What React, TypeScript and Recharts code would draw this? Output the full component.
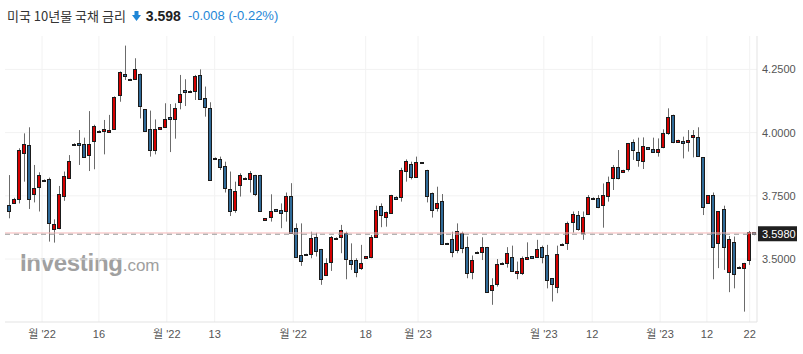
import React from "react";
import {
  ComposedChart,
  Bar,
  XAxis,
  YAxis,
  CartesianGrid,
  ReferenceLine,
} from "recharts";

// daily OHLC (oldest first)
const opens = [
  3.714, 3.72, 3.736, 3.918, 3.95, 3.756, 3.786, 3.813, 3.815, 3.618,
  3.624, 3.749, 3.822, 3.95, 3.96, 3.954, 3.91, 3.967, 4.008, 4.006,
  4.002, 4.016, 4.149, 4.232, 4.207, 4.213, 4.232, 4.092, 4.013, 3.931,
  4.013, 4.021, 4.06, 4.052, 4.122, 4.168, 4.16, 4.166, 4.228, 4.135,
  4.096, 3.901, 3.896, 3.868, 3.777, 3.694, 3.792, 3.822, 3.817, 3.832,
  3.832, 3.655, 3.665, 3.697, 3.694, 3.691, 3.749, 3.622, 3.516, 3.52,
  3.519, 3.586, 3.539, 3.435, 3.49, 3.578, 3.586, 3.604, 3.496, 3.496,
  3.464, 3.504, 3.51, 3.589, 3.71, 3.668, 3.684, 3.747, 3.747, 3.85,
  3.876, 3.826, 3.882, 3.852, 3.76, 3.701, 3.728, 3.563, 3.578, 3.536,
  3.604, 3.549, 3.448, 3.523, 3.527, 3.547, 3.378, 3.4, 3.479, 3.486,
  3.51, 3.444, 3.444, 3.5, 3.511, 3.51, 3.549, 3.515, 3.424, 3.391,
  3.554, 3.565, 3.645, 3.674, 3.602, 3.678, 3.743, 3.743, 3.714, 3.749,
  3.822, 3.865, 3.846, 3.855, 3.962, 3.925, 3.889, 3.942, 3.935, 3.925,
  3.942, 4.0, 4.07, 3.964, 3.967, 3.964, 3.984, 3.981, 3.902, 3.72,
  3.753, 3.565, 3.697, 3.45, 3.569, 3.464, 3.466, 3.496, 3.606,
];

const highs = [
  3.832, 3.742, 3.938, 3.997, 4.021, 3.872, 3.843, 3.815, 3.822, 3.657,
  3.789, 3.846, 3.911, 3.958, 4.01, 3.98, 4.085, 4.031, 4.009, 4.05,
  4.07, 4.143, 4.242, 4.344, 4.213, 4.294, 4.234, 4.093, 4.087, 4.052,
  4.022, 4.116, 4.113, 4.116, 4.228, 4.211, 4.167, 4.228, 4.25, 4.182,
  4.12, 3.902, 3.905, 3.885, 3.846, 3.806, 3.839, 3.823, 3.848, 3.833,
  3.833, 3.662, 3.756, 3.698, 3.72, 3.763, 3.8, 3.641, 3.641, 3.521,
  3.608, 3.604, 3.54, 3.503, 3.591, 3.586, 3.635, 3.608, 3.562, 3.503,
  3.556, 3.512, 3.595, 3.711, 3.72, 3.688, 3.754, 3.748, 3.861, 3.894,
  3.885, 3.905, 3.883, 3.853, 3.763, 3.786, 3.757, 3.564, 3.608, 3.641,
  3.608, 3.589, 3.514, 3.53, 3.586, 3.548, 3.424, 3.5, 3.487, 3.547,
  3.553, 3.49, 3.51, 3.566, 3.512, 3.576, 3.553, 3.556, 3.425, 3.553,
  3.562, 3.648, 3.688, 3.69, 3.688, 3.753, 3.744, 3.753, 3.799, 3.826,
  3.872, 3.931, 3.853, 3.959, 3.973, 3.98, 3.981, 3.943, 3.98, 3.977,
  4.013, 4.096, 4.071, 3.972, 3.984, 4.01, 4.01, 4.021, 3.903, 3.753,
  3.763, 3.689, 3.711, 3.591, 3.589, 3.471, 3.485, 3.611, 3.607,
];

const lows = [
  3.661, 3.718, 3.72, 3.806, 3.698, 3.724, 3.688, 3.806, 3.569, 3.565,
  3.618, 3.73, 3.819, 3.948, 3.872, 3.901, 3.848, 3.855, 4.001, 3.914,
  4.001, 4.013, 4.122, 4.208, 4.206, 4.211, 4.056, 4.004, 3.905, 3.914,
  4.012, 4.02, 3.923, 3.976, 4.092, 4.105, 4.159, 4.129, 4.129, 4.063,
  3.812, 3.893, 3.852, 3.763, 3.67, 3.683, 3.747, 3.814, 3.763, 3.749,
  3.69, 3.654, 3.648, 3.688, 3.622, 3.648, 3.603, 3.507, 3.473, 3.514,
  3.503, 3.51, 3.398, 3.433, 3.453, 3.577, 3.523, 3.42, 3.457, 3.428,
  3.457, 3.503, 3.503, 3.585, 3.626, 3.628, 3.681, 3.738, 3.727, 3.806,
  3.815, 3.825, 3.879, 3.724, 3.664, 3.688, 3.556, 3.56, 3.507, 3.523,
  3.523, 3.424, 3.42, 3.522, 3.496, 3.369, 3.319, 3.391, 3.478, 3.466,
  3.45, 3.42, 3.437, 3.496, 3.503, 3.507, 3.483, 3.384, 3.332, 3.365,
  3.553, 3.536, 3.604, 3.612, 3.576, 3.674, 3.735, 3.701, 3.624, 3.727,
  3.773, 3.815, 3.845, 3.846, 3.892, 3.865, 3.856, 3.934, 3.921, 3.905,
  3.938, 3.991, 3.958, 3.963, 3.898, 3.925, 3.902, 3.905, 3.674, 3.719,
  3.42, 3.464, 3.457, 3.369, 3.384, 3.463, 3.292, 3.477, 3.594,
];

const closes = [
  3.688, 3.739, 3.931, 3.954, 3.739, 3.782, 3.832, 3.807, 3.644, 3.637,
  3.756, 3.828, 3.889, 3.956, 3.95, 3.905, 3.954, 4.025, 4.002, 4.014,
  4.01, 4.142, 4.241, 4.224, 4.212, 4.253, 4.105, 4.008, 3.931, 4.013,
  4.021, 4.052, 4.052, 4.099, 4.154, 4.159, 4.166, 4.225, 4.131, 4.103,
  3.813, 3.894, 3.865, 3.78, 3.691, 3.771, 3.832, 3.815, 3.842, 3.757,
  3.691, 3.661, 3.691, 3.689, 3.681, 3.749, 3.604, 3.51, 3.493, 3.515,
  3.582, 3.533, 3.42, 3.486, 3.586, 3.585, 3.615, 3.499, 3.481, 3.45,
  3.486, 3.511, 3.589, 3.694, 3.674, 3.685, 3.753, 3.739, 3.852, 3.889,
  3.823, 3.882, 3.88, 3.751, 3.694, 3.72, 3.558, 3.561, 3.527, 3.612,
  3.543, 3.444, 3.496, 3.529, 3.547, 3.371, 3.398, 3.479, 3.486, 3.523,
  3.454, 3.453, 3.503, 3.508, 3.504, 3.539, 3.51, 3.417, 3.4, 3.519,
  3.561, 3.644, 3.678, 3.618, 3.665, 3.747, 3.736, 3.707, 3.753, 3.806,
  3.865, 3.822, 3.852, 3.958, 3.931, 3.892, 3.948, 3.935, 3.925, 3.934,
  3.997, 4.063, 3.964, 3.971, 3.96, 3.971, 3.992, 3.909, 3.707, 3.752,
  3.547, 3.688, 3.549, 3.579, 3.44, 3.47, 3.483, 3.607, 3.598,
];

// x-axis labels, placed by candle index
const xTickPos = [7.7, 19, 32.5, 42, 57.6, 72, 82.4, 107.4, 117, 130.5, 139.8, 148.3];
const xTickLabels = ["월 '22", "16", "월 '22", "13", "월 '22", "18", "월 '23", "월 '23", "12", "월 '23", "12", "22"];
const yTicks = [3.5, 3.75, 4.0, 4.25];

const lastPrice = 3.598;
const change = "-0.008";
const changePct = "(-0.22%)";

const UP = "#d40000";
const DOWN = "#2f6a98";
const FONT = "'Liberation Sans', Arial, 'Noto Sans CJK KR', sans-serif";

const data = opens.map((o, i) => ({
  i: i + 1,
  o,
  h: highs[i],
  l: lows[i],
  c: closes[i],
}));

// eslint-disable-next-line @typescript-eslint/no-explicit-any
function Candle(props: any) {
  const { x, y, width, height, payload } = props;
  if (!payload) return null;
  const { o, h, l, c } = payload;
  const top = Math.min(y, y + height);
  const bot = Math.max(y, y + height);
  const span = h - l || 0.0001;
  const px = (v: number) => top + ((h - v) / span) * (bot - top);
  const cx = Math.round(x + width / 2);
  const up = c >= o;
  const bTop = Math.round(px(Math.max(o, c)));
  const bBot = Math.round(px(Math.min(o, c)));
  return (
    <g>
      <line x1={cx + 0.5} x2={cx + 0.5} y1={top} y2={bot} stroke="#6b6b6b" strokeWidth={1} />
      <rect
        x={cx - 1.5}
        y={bTop + 0.5}
        width={3}
        height={Math.max(bBot - bTop, 1)}
        fill={up ? UP : DOWN}
        stroke="#1b1b1b"
        strokeWidth={1}
      />
    </g>
  );
}

// eslint-disable-next-line @typescript-eslint/no-explicit-any
function PriceTag(props: any) {
  const { viewBox } = props;
  if (!viewBox) return null;
  const x = viewBox.x + viewBox.width + 1;
  const y = viewBox.y;
  return (
    <g>
      <rect x={x} y={y - 8} width={39} height={15} fill="#1f1f1f" />
      <text x={x + 4} y={y + 4} fill="#fff" fontSize={11} fontFamily={FONT}>
        {lastPrice.toFixed(4)}
      </text>
    </g>
  );
}

export default function App() {
  return (
    <div style={{ position: "absolute", left: 0, top: 0, width: 803, height: 354, background: "#fff" }}>
      <div
        style={{
          position: "absolute",
          left: 7,
          top: 6,
          display: "flex",
          alignItems: "center",
          whiteSpace: "nowrap",
          fontFamily: FONT,
          lineHeight: "20px",
        }}
      >
        <span style={{ fontSize: 13, color: "#333", fontFamily: "'Noto Sans CJK KR', sans-serif" }}>
          미국 10년물 국채 금리
        </span>
        <svg width={9} height={10} style={{ marginLeft: 6, marginRight: 5 }}>
          <rect x={2.5} y={0} width={4} height={5} fill="#1e86d6" />
          <polygon points="0,4 9,4 4.5,10" fill="#1e86d6" />
        </svg>
        <span style={{ fontSize: 14, fontWeight: "bold", color: "#222" }}>{lastPrice.toFixed(3)}</span>
        <span style={{ fontSize: 13, color: "#1e86d6", marginLeft: 7 }}>
          {change} {changePct}
        </span>
      </div>

      <div
        style={{
          position: "absolute",
          left: 20,
          top: 248,
          fontFamily: FONT,
          color: "#a0a0a0",
          whiteSpace: "nowrap",
          lineHeight: "30px",
        }}
      >
        <span style={{ fontSize: 24, fontWeight: "bold", letterSpacing: -0.3 }}>Investing</span>
        <span style={{ fontSize: 17 }}>.com</span>
      </div>

      <ComposedChart
        width={803}
        height={354}
        data={data}
        margin={{ top: 36, right: 0, left: 5, bottom: 2 }}
        style={{ position: "absolute", left: 0, top: 0 }}
      >
        <CartesianGrid stroke="#f2f2f2" horizontalValues={yTicks} verticalValues={xTickPos} />
        <XAxis
          dataKey="i"
          type="number"
          domain={[0.344, 149.75]}
          allowDataOverflow
          ticks={xTickPos}
          interval={0}
          tickFormatter={(v: number) => xTickLabels[xTickPos.indexOf(v)] ?? ""}
          tick={{ fontSize: 11, fill: "#555", fontFamily: FONT }}
          tickLine={false}
          axisLine={{ stroke: "#e3e3e3" }}
          height={30}
        />
        <YAxis
          orientation="right"
          type="number"
          domain={[3.251, 4.382]}
          allowDataOverflow
          ticks={yTicks}
          interval={0}
          tickFormatter={(v: number) => v.toFixed(4)}
          tick={{ fontSize: 11, fill: "#555", fontFamily: FONT }}
          tickLine={false}
          tickSize={3}
          axisLine={{ stroke: "#e3e3e3" }}
          width={46}
        />
        <ReferenceLine y={3.603} stroke="#f5b5b5" strokeWidth={1} />
        <ReferenceLine
          y={lastPrice}
          stroke="#9a9a9a"
          strokeDasharray="5 4"
          label={<PriceTag />}
        />
        <Bar
          dataKey={(d: { l: number; h: number }) => [d.l, d.h]}
          barSize={4}
          shape={<Candle />}
          isAnimationActive={false}
        />
      </ComposedChart>
    </div>
  );
}
